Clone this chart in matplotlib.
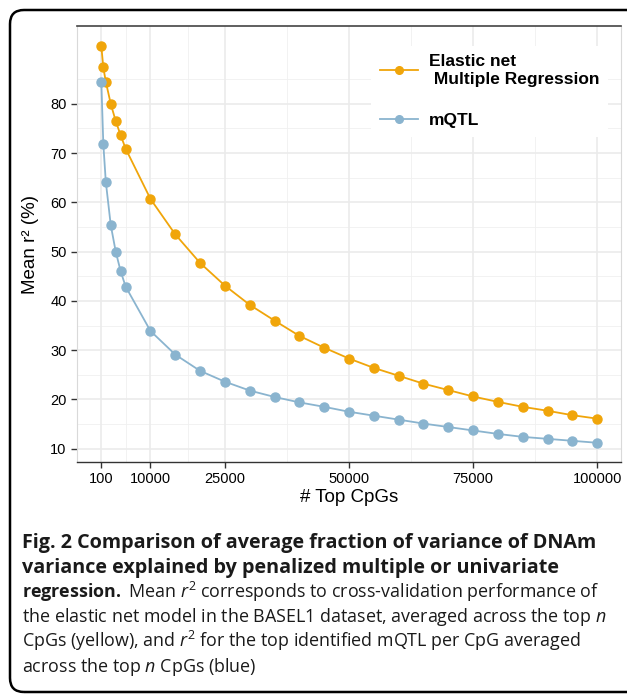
import numpy as np
import matplotlib
matplotlib.use("Agg")
import matplotlib.pyplot as plt
from matplotlib.patches import FancyBboxPatch

plt.rcParams['font.family'] = ['Liberation Sans', 'DejaVu Sans']
plt.rcParams['mathtext.fontset'] = 'custom'
plt.rcParams['mathtext.rm'] = 'Open Sans'
plt.rcParams['mathtext.it'] = 'Open Sans:italic'
plt.rcParams['mathtext.bf'] = 'Open Sans:bold'

# data
top_cpgs = [100, 500, 1000, 2000, 3000, 4000, 5000, 10000, 15000, 20000, 25000,
            30000, 35000, 40000, 45000, 50000, 55000, 60000, 65000, 70000, 75000,
            80000, 85000, 90000, 95000, 100000]
elastic_net = [91.7, 87.4, 84.5, 80.0, 76.5, 73.6, 70.9, 60.7, 53.5, 47.7, 43.1,
               39.2, 36.0, 32.9, 30.5, 28.3, 26.4, 24.8, 23.2, 21.9, 20.6,
               19.5, 18.5, 17.7, 16.8, 16.1]
mqtl = [84.5, 71.9, 64.2, 55.4, 50.0, 46.0, 42.9, 33.9, 29.1, 25.8, 23.6,
        21.8, 20.5, 19.4, 18.5, 17.5, 16.7, 15.9, 15.1, 14.4, 13.7,
        13.0, 12.4, 12.0, 11.6, 11.2]
x_breaks = [100, 10000, 25000, 50000, 75000, 100000]
y_breaks = [10, 20, 30, 40, 50, 60, 70, 80]

orange = '#F0A50A'
blue = '#8AB4CF'

fig = plt.figure(figsize=(6.27, 6.96), dpi=100)
W, H = 627, 696
ax = fig.add_axes([77 / W, 1 - 462 / H, (621 - 77) / W, (462 - 26) / H])

# grid (ggplot-like)
x_minor = [(a + b) / 2 for a, b in zip(x_breaks[:-1], x_breaks[1:])]
y_minor = [b + 5 for b in y_breaks]
for v in x_minor:
    ax.axvline(v, color='#f0f0f0', lw=0.6, zorder=0)
for v in y_minor:
    ax.axhline(v, color='#f0f0f0', lw=0.6, zorder=0)
for v in x_breaks:
    ax.axvline(v, color='#ebebeb', lw=1.2, zorder=0)
for v in y_breaks:
    ax.axhline(v, color='#ebebeb', lw=1.2, zorder=0)

ax.plot(top_cpgs, elastic_net, color=orange, lw=1.3, marker='o', ms=6.5,
        label='Elastic net\n Multiple Regression', zorder=3)
ax.plot(top_cpgs, mqtl, color=blue, lw=1.3, marker='o', ms=6.5,
        label='mQTL', zorder=3)

ax.set_xlim(-4800, 104800)
ax.set_ylim(7.3, 95.8)
ax.set_xticks(x_breaks)
ax.set_xticklabels([str(v) for v in x_breaks])
ax.set_yticks(y_breaks)
ax.tick_params(axis='both', colors='#333333', labelcolor='black', labelsize=10.5,
               length=4, width=1)
ax.tick_params(axis='x', pad=3)

for s in ['left', 'right']:
    ax.spines[s].set_color('#d9d9d9')
    ax.spines[s].set_linewidth(0.8)
ax.spines['top'].set_color('#444444')
ax.spines['top'].set_linewidth(1.2)
ax.spines['bottom'].set_color('#333333')
ax.spines['bottom'].set_linewidth(1.0)

ax.set_xlabel('# Top CpGs', fontsize=13.5, labelpad=2)
ax.set_ylabel('Mean r² (%)', fontsize=13.5, labelpad=8)

leg = ax.legend(loc='upper left', bbox_to_anchor=(0.525, 0.975), frameon=True,
                facecolor='white', edgecolor='none', framealpha=1,
                prop={'weight': 'bold', 'size': 12.5}, handlelength=2.2,
                handletextpad=0.6, labelspacing=1.5, borderpad=0.5)
for h in leg.legend_handles:
    h.set_markersize(5.5)

# outer rounded frame
frame = FancyBboxPatch((10, H - 692), 640, 682, boxstyle='round,pad=0,rounding_size=14',
                       transform=None, fill=False, ec='black', lw=1.8,
                       clip_on=False)
fig.patches.append(frame)

# caption
cap_font = 'Open Sans'
cap_lines = [
    ('Fig. 2 Comparison of average fraction of variance of DNAm', 'bold', 14.2),
    ('variance explained by penalized multiple or univariate', 'bold', 14.2),
    (r'$\mathbf{regression.}$ Mean $\mathit{r}^2$ corresponds to cross-validation performance of', 'normal', 12.9),
    (r'the elastic net model in the BASEL1 dataset, averaged across the top $\mathit{n}$', 'normal', 12.9),
    (r'CpGs (yellow), and $\mathit{r}^2$ for the top identified mQTL per CpG averaged', 'normal', 12.9),
    (r'across the top $\mathit{n}$ CpGs (blue)', 'normal', 12.9),
]
baselines = [548, 573, 598, 622, 647, 672]
for (txt, wt, sz), yb in zip(cap_lines, baselines):
    fig.text(22 / W, 1 - yb / H, txt, family=cap_font, weight=wt, size=sz,
             va='baseline', ha='left', color='#1a1a1a')

fig.savefig('out.png', dpi=100)
